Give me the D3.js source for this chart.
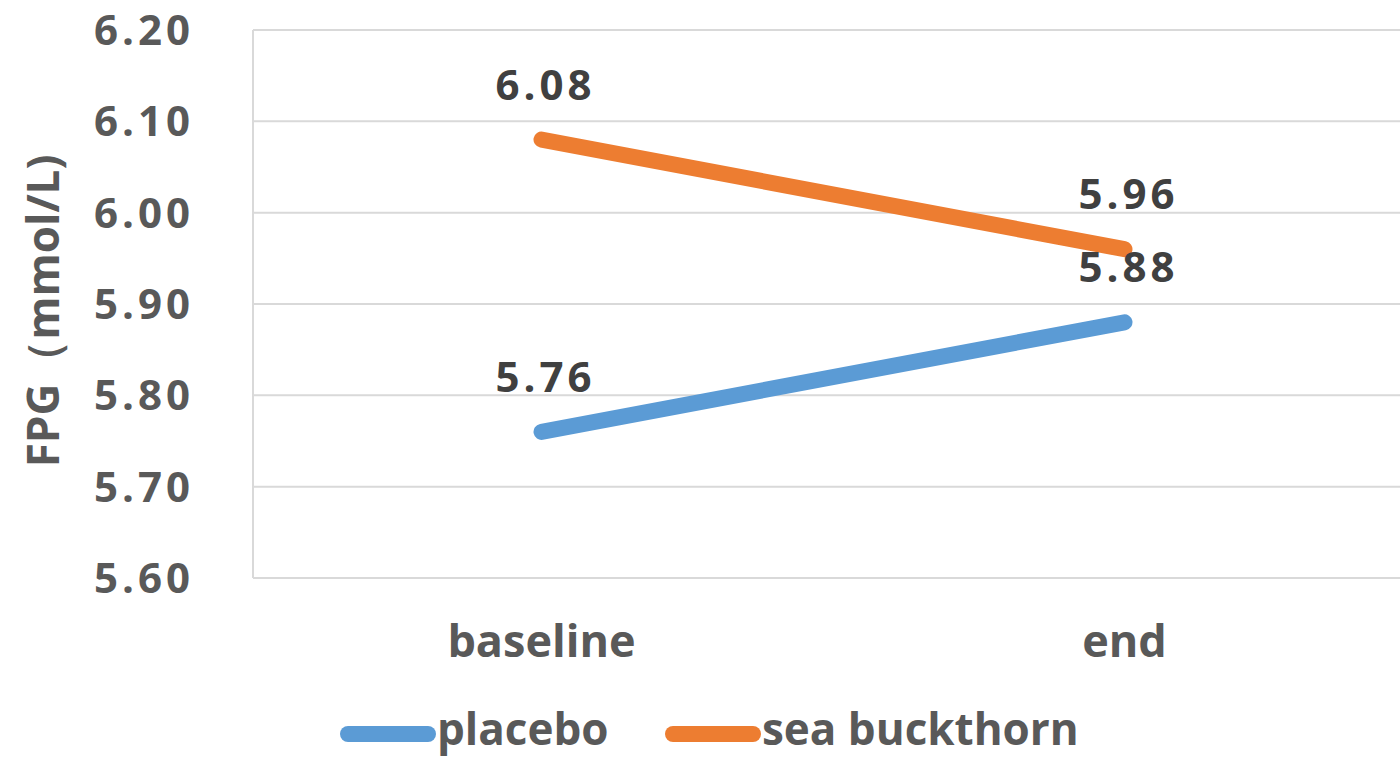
<!DOCTYPE html>
<html><head><meta charset="utf-8">
<script src="https://cdn.jsdelivr.net/npm/d3@7"></script>
<style>body{margin:0;background:#fff;} svg{display:block;}</style>
</head><body>
<svg id="c" width="1400" height="758"></svg>
<script>
const categories = ["baseline", "end"];
const placebo = [5.76, 5.88];
const seaBuckthorn = [6.08, 5.96];
const yTicks = [5.60, 5.70, 5.80, 5.90, 6.00, 6.10, 6.20];
const seriesNames = ["placebo", "sea buckthorn"];
const colors = ["#5B9BD5", "#ED7D31"];
const yTitle = "FPG（mmol/L)";

(function () {
const svg = d3.select("#c");
const font = "'Open Sans', sans-serif";
const pL = 253, pR = 1419, pT = 30, pB = 578;
const x = d3.scaleBand().domain(categories).range([pL, pR]);
const y = d3.scaleLinear().domain([5.6, 6.2]).range([pB, pT]);
const cx = c => x(c) + x.bandwidth() / 2 - 3;

// gridlines
svg.append("g").selectAll("line").data(yTicks).join("line")
  .attr("x1", pL).attr("x2", 1400).attr("y1", d => y(d)).attr("y2", d => y(d))
  .attr("stroke", "#d9d9d9").attr("stroke-width", 2);
svg.append("line").attr("x1", pL).attr("x2", pL).attr("y1", pT).attr("y2", pB)
  .attr("stroke", "#d9d9d9").attr("stroke-width", 2);

// y tick labels
svg.append("g").selectAll("text").data(yTicks).join("text")
  .attr("x", 194).attr("y", d => y(d) + 15)
  .attr("text-anchor", "end").attr("font-family", font).attr("font-weight", 700)
  .attr("font-size", 42).attr("letter-spacing", 4).attr("fill", "#595959").text(d => d.toFixed(2));

// x labels
svg.append("g").selectAll("text").data(categories).join("text")
  .attr("x", d => cx(d)).attr("y", 657)
  .attr("text-anchor", "middle").attr("font-family", font).attr("font-weight", 700)
  .attr("font-size", 45).attr("fill", "#595959").text(d => d);

// y title
svg.append("text").attr("transform", "translate(59,311) rotate(-90)")
  .attr("text-anchor", "middle").attr("font-family", font).attr("font-weight", 700)
  .attr("font-size", 44).attr("fill", "#595959").text(yTitle);

// lines
const series = [placebo, seaBuckthorn];
const line = d3.line().x((d, i) => cx(categories[i])).y(d => y(d));
series.forEach((s, k) => {
  svg.append("path").attr("d", line(s)).attr("fill", "none")
    .attr("stroke", colors[k]).attr("stroke-width", 16).attr("stroke-linecap", "round");
});
// data labels
series.forEach((s, k) => {
  svg.append("g").selectAll("text").data(s).join("text")
    .attr("x", (d, i) => cx(categories[i]) + 4)
    .attr("y", d => y(d) - 40)
    .attr("text-anchor", "middle").attr("font-family", font).attr("font-weight", 700)
    .attr("font-size", 42).attr("letter-spacing", 4).attr("fill", "#404040").text(d => d.toFixed(2));
});

// legend
const legendItems = [{sx: 348, tx: 437}, {sx: 673, tx: 762}];
legendItems.forEach((p, k) => {
  svg.append("line").attr("x1", p.sx).attr("x2", p.sx + 80).attr("y1", 734).attr("y2", 734)
    .attr("stroke", colors[k]).attr("stroke-width", 16).attr("stroke-linecap", "round");
  svg.append("text").attr("x", p.tx).attr("y", 745)
    .attr("font-family", font).attr("font-weight", 700).attr("font-size", 44)
    .attr("fill", "#595959").text(seriesNames[k]);
});
})();
</script>
</body></html>
